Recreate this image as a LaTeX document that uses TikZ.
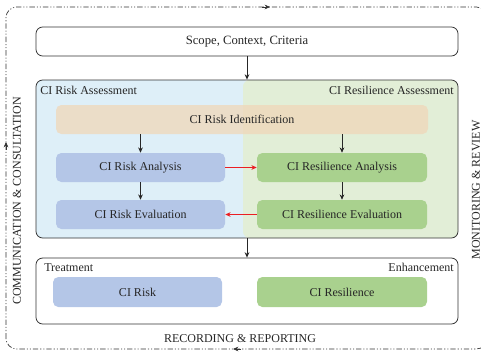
\documentclass[tikz,border=0pt]{standalone}
\usepackage{fontspec}
\setmainfont{Liberation Serif}
\usetikzlibrary{arrows.meta}
\definecolor{lblue}{RGB}{222,239,248}
\definecolor{lgreen}{RGB}{226,238,215}
\definecolor{orng}{RGB}{240,215,185}
\definecolor{bbox}{RGB}{180,198,231}
\definecolor{gbox}{RGB}{169,209,142}
\definecolor{redarr}{RGB}{235,30,35}
\tikzset{
  txt/.style={font=\fontsize{9}{10}\selectfont, text=black!85},
  proc/.style={rounded corners=4pt, draw=none, txt},
  frame/.style={draw=black!80, rounded corners=5pt, line width=0.6pt},
  arr/.style={-{Stealth[length=4pt,width=3.5pt]}, line width=0.6pt, black!85},
  rarr/.style={-{Stealth[length=4pt,width=3.5pt]}, line width=0.6pt, redarr},
  dd/.style={black!80, line width=0.5pt, dash pattern=on 4pt off 1.5pt on 0.8pt off 1.5pt on 0.8pt off 1.5pt},
  farr/.style={-{Stealth[length=4pt,width=3.5pt]}, black!80, line width=0.5pt},
}
\begin{document}
\begin{tikzpicture}[x=0.75pt,y=-0.75pt]
\useasboundingbox (0,0) rectangle (481,351);
% outer dash-dot frame
\draw[dd, rounded corners=8pt] (6,349) -- (6,7) -- (487,7) -- (487,349) -- cycle;
\coordinate (ta) at (270,7);
\coordinate (la) at (6,142);
\coordinate (ba) at (233,349);
\draw[farr] (262,7) -- (ta);
\draw[farr] (6,150) -- (la);
\draw[farr] (241,349) -- (ba);
% scope
\node[frame, minimum width=422*0.75pt, minimum height=29*0.75pt, txt, font=\fontsize{9.5}{10}\selectfont] (scope) at (247,41.5) {Scope, Context, Criteria};
% assessment region
\fill[lblue, rounded corners=5pt] (36,80) rectangle (250,238);
\fill[lgreen, rounded corners=5pt] (243,80) rectangle (458,238);
\node[frame, minimum width=422*0.75pt, minimum height=158*0.75pt, inner sep=0pt] (assess) at (247,159) {};
\node[txt, anchor=north west, inner sep=0pt] (ra) at (40,86) {CI Risk Assessment};
\node[txt, anchor=north east, inner sep=0pt] (rsa) at (454,86) {CI Resilience Assessment};
\node[proc, fill=orng, fill opacity=0.75, text opacity=1, minimum width=372*0.75pt, minimum height=29*0.75pt] (ident) at (242,119.5) {CI Risk Identification};
\node[proc, fill=bbox, minimum width=169*0.75pt, minimum height=29*0.75pt] (rana) at (140.5,167.5) {CI Risk Analysis};
\node[proc, fill=gbox, minimum width=170*0.75pt, minimum height=29*0.75pt] (sana) at (342,167.5) {CI Resilience Analysis};
\node[proc, fill=bbox, minimum width=169*0.75pt, minimum height=29*0.75pt] (reva) at (140.5,214.5) {CI Risk Evaluation};
\node[proc, fill=gbox, minimum width=170*0.75pt, minimum height=29*0.75pt] (seva) at (342,214.5) {CI Resilience Evaluation};
% treatment region
\node[frame, minimum width=422*0.75pt, minimum height=66*0.75pt, inner sep=0pt] (treat) at (247,291) {};
\node[txt, anchor=north west, inner sep=0pt] (tl) at (44,263) {Treatment};
\node[txt, anchor=north east, inner sep=0pt] (el) at (454,263) {Enhancement};
\node[proc, fill=bbox, minimum width=169*0.75pt, minimum height=30*0.75pt] (crisk) at (137.5,292) {CI Risk};
\node[proc, fill=gbox, minimum width=170*0.75pt, minimum height=30*0.75pt] (cres) at (342,292) {CI Resilience};
% side labels
\node[txt, rotate=90] (comm) at (17,201) {COMMUNICATION \& CONSULTATION};
\node[txt, rotate=90] (mon) at (476,190) {MONITORING \& REVIEW};
\node[txt] (rec) at (240,339) {RECORDING \& REPORTING};
% arrows
\draw[arr] (scope.south) -- (assess.north);
\draw[arr] (assess.south) -- (treat.north);
\draw[arr] (ident.south -| rana) -- (rana.north);
\draw[arr] (ident.south -| sana) -- (sana.north);
\draw[arr] (rana) -- (reva);
\draw[arr] (sana) -- (seva);
\draw[rarr] (rana.east) -- (sana.west);
\draw[rarr] (seva.west) -- (reva.east);
\end{tikzpicture}
\end{document}
